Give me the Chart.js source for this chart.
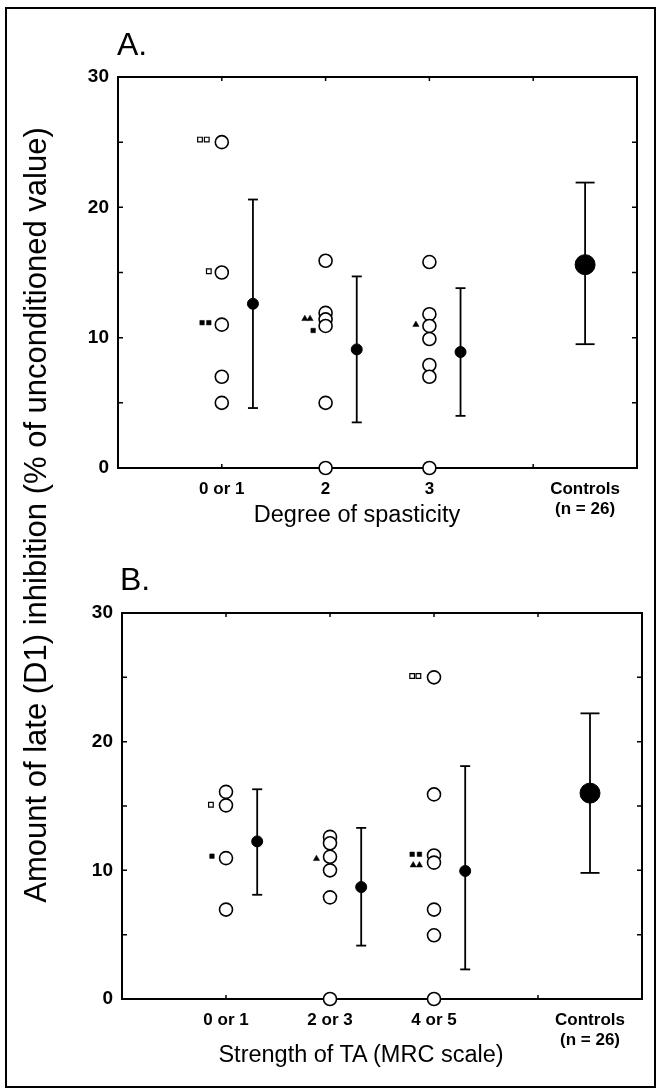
<!DOCTYPE html>
<html>
<head>
<meta charset="utf-8">
<title>Late (D1) inhibition</title>
<script src="https://cdn.jsdelivr.net/npm/chart.js@4.4.1/dist/chart.umd.min.js"></script>
<style>
    body {
        margin: 0;
        background: #fff;
        font-family: "Liberation Sans", Arial, Helvetica, sans-serif;
        color: #000;
    }
    #page {
        position: relative;
        width: 659px;
        height: 1091px;
        overflow: hidden;
    }
    #frame {
        position: absolute;
        left: 5px;
        top: 7px;
        width: 651px;
        height: 1081px;
        box-sizing: border-box;
        border: 2px solid #000;
    }
    .panel {
        position: absolute;
        left: 0;
        width: 659px;
        height: 540px;
    }
    #panelA { top: 0; }
    #panelB { top: 535px; }
    .letter {
        position: absolute;
        font-size: 32px;
        line-height: 1;
    }
    .xtitle {
        position: absolute;
        width: 400px;
        font-size: 23.5px;
        line-height: 1;
        text-align: center;
        white-space: nowrap;
    }
    #ytitle {
        position: absolute;
        left: -364px;
        top: 497px;
        width: 800px;
        height: 36px;
        line-height: 36px;
        font-size: 31px;
        text-align: center;
        white-space: nowrap;
        transform: rotate(-90deg);
    }
</style>
</head>
<body>
<div id="page">
    <div id="frame"></div>
    <div class="panel" id="panelA"><canvas id="chartA"></canvas></div>
    <div class="panel" id="panelB"><canvas id="chartB"></canvas></div>
    <div class="letter" style="left:117px; top:28px;">A.</div>
    <div class="letter" style="left:120px; top:563px;">B.</div>
    <div class="xtitle" style="left:157px; top:503px;">Degree of spasticity</div>
    <div class="xtitle" style="left:161px; top:1043px;">Strength of TA (MRC scale)</div>
    <div id="ytitle">Amount of late (D1) inhibition (% of unconditioned value)</div>
</div>

<script>
// group positions on the x axis
const groupPositions = [1, 2, 3];
const controlsPosition = 4.5;
const meanShift = 0.3;

const spasticityLabels = ["0 or 1", "2", "3"];
const strengthLabels = ["0 or 1", "2 or 3", "4 or 5"];
const controlsLabel = ["Controls", "(n = 26)"];

const yTickValues = [0, 10, 20, 30];

// A. degree of spasticity - single patients (open circles)
const spasticityValues = [
    [25, 15, 11, 7, 5],
    [15.9, 11.9, 11.4, 10.9, 5, 0],
    [15.8, 11.8, 10.9, 9.9, 7.9, 7.0, 0]
];
const spasticityMeans = [12.6, 9.1, 8.9];
const spasticityHigh = [20.6, 14.7, 13.8];
const spasticityLow = [4.6, 3.5, 4.0];

// small symbols next to the circles
const spasticityOpenSquares = [{x: 0.79, y: 25.2}, {x: 0.855, y: 25.2}, {x: 0.875, y: 15.1}];
const spasticityFilledSquares = [{x: 0.81, y: 11.15}, {x: 0.875, y: 11.15}, {x: 1.88, y: 10.55}];
const spasticityTriangles = [{x: 1.8, y: 11.45}, {x: 1.85, y: 11.45}, {x: 2.87, y: 11.0}];

// B. strength of TA
const strengthValues = [
    [16.1, 15.05, 10.95, 6.95],
    [12.6, 12.1, 11.05, 10.0, 7.9, 0],
    [25, 15.9, 11.15, 10.6, 6.95, 4.95, 0]
];
const strengthMeans = [12.25, 8.7, 9.95];
const strengthHigh = [16.3, 13.3, 18.1];
const strengthLow = [8.1, 4.15, 2.3];

const strengthOpenSquares = [{x: 0.855, y: 15.1}, {x: 2.79, y: 25.1}, {x: 2.85, y: 25.1}];
const strengthFilledSquares = [{x: 0.865, y: 11.1}, {x: 2.79, y: 11.25}, {x: 2.86, y: 11.25}];
const strengthTriangles = [{x: 1.87, y: 10.9}, {x: 2.8, y: 10.4}, {x: 2.86, y: 10.4}];

// controls (n = 26), panel A then panel B
const controlMeans = [15.6, 16.0];
const controlHigh = [21.9, 22.2];
const controlLow = [9.5, 9.8];

const fontFamily = '"Liberation Sans", Arial, Helvetica, sans-serif';

// plot frame with inward ticks, drawn under the points
const framePlugin = {
    id: "frame",
    beforeDatasetsDraw(chart) {
        const ctx = chart.ctx;
        const area = chart.chartArea;
        const x = chart.scales.x;
        const y = chart.scales.y;
        ctx.save();
        ctx.strokeStyle = "#000";
        ctx.lineWidth = 2;
        ctx.strokeRect(area.left, area.top, area.right - area.left, area.bottom - area.top);
        ctx.lineWidth = 1.5;
        ctx.beginPath();
        [5, 10, 15, 20, 25].forEach(v => {
            const py = y.getPixelForValue(v);
            ctx.moveTo(area.left, py);
            ctx.lineTo(area.left + 5, py);
            ctx.moveTo(area.right, py);
            ctx.lineTo(area.right - 5, py);
        });
        [1, 2, 3, 4].forEach(v => {
            const px = x.getPixelForValue(v);
            ctx.moveTo(px, area.top);
            ctx.lineTo(px, area.top + 4);
            ctx.moveTo(px, area.bottom);
            ctx.lineTo(px, area.bottom - 4);
        });
        ctx.stroke();
        ctx.restore();
    }
};

function makePanel(canvasId, labels, values, means, high, low, c, open, filled, triangles, geom) {
    const circles = [];
    values.forEach((group, i) => {
        group.forEach(v => circles.push({x: groupPositions[i], y: v}));
    });

    const meanPoints = means.map((m, i) => ({x: groupPositions[i] + meanShift, y: m}));

    // error bars: low/high pairs split by gaps, caps are 'line' points
    const bars = [];
    means.forEach((m, i) => {
        const bx = groupPositions[i] + meanShift;
        bars.push({x: bx, y: low[i]}, {x: bx, y: high[i]}, {x: bx, y: null});
    });
    const controlBar = [
        {x: controlsPosition, y: controlLow[c]},
        {x: controlsPosition, y: controlHigh[c]}
    ];

    const tickText = v => {
        if (v === controlsPosition) return controlsLabel;
        const i = groupPositions.indexOf(v);
        return i >= 0 ? labels[i] : "";
    };

    return new Chart(canvasId, {
        type: "scatter",
        data: {
            datasets: [
                {
                    data: [{x: controlsPosition, y: controlMeans[c]}],
                    pointStyle: "circle",
                    pointRadius: 10,
                    backgroundColor: "#000",
                    borderColor: "#000",
                    clip: false
                },
                {
                    data: meanPoints,
                    pointStyle: "circle",
                    pointRadius: 5.5,
                    backgroundColor: "#000",
                    borderColor: "#000",
                    clip: false
                },
                {
                    data: circles,
                    pointStyle: "circle",
                    pointRadius: 6.5,
                    borderWidth: 1.6,
                    backgroundColor: "#fff",
                    borderColor: "#000",
                    clip: false
                },
                {
                    data: open,
                    pointStyle: "rect",
                    pointRadius: 3.3,
                    borderWidth: 1.2,
                    backgroundColor: "#fff",
                    borderColor: "#000"
                },
                {
                    data: filled,
                    pointStyle: "rect",
                    pointRadius: 3.2,
                    borderWidth: 0.5,
                    backgroundColor: "#000",
                    borderColor: "#000"
                },
                {
                    data: triangles,
                    pointStyle: "triangle",
                    pointRadius: 3.6,
                    borderWidth: 0.5,
                    backgroundColor: "#000",
                    borderColor: "#000"
                },
                {
                    type: "line",
                    data: bars,
                    showLine: true,
                    spanGaps: false,
                    borderColor: "#000",
                    borderWidth: 1.8,
                    pointStyle: "line",
                    pointRadius: 5,
                    pointBorderWidth: 1.8,
                    pointBorderColor: "#000",
                    clip: false
                },
                {
                    type: "line",
                    data: controlBar,
                    showLine: true,
                    borderColor: "#000",
                    borderWidth: 1.8,
                    pointStyle: "line",
                    pointRadius: 9.5,
                    pointBorderWidth: 1.8,
                    pointBorderColor: "#000",
                    clip: false
                }
            ]
        },
        options: {
            responsive: true,
            maintainAspectRatio: false,
            animation: false,
            events: [],
            layout: {
                padding: {top: geom.top, right: geom.right, left: 0, bottom: 0}
            },
            plugins: {
                legend: {display: false},
                tooltip: {enabled: false}
            },
            scales: {
                x: {
                    type: "linear",
                    min: 0,
                    max: 5,
                    grid: {display: false, drawTicks: false},
                    border: {display: false},
                    afterBuildTicks: scale => {
                        scale.ticks = groupPositions.concat([controlsPosition]).map(v => ({value: v}));
                    },
                    ticks: {
                        autoSkip: false,
                        maxRotation: 0,
                        padding: 11,
                        color: "#000",
                        font: {size: 17, weight: "bold", family: fontFamily, lineHeight: 1.2},
                        callback: v => tickText(v)
                    },
                    afterFit: scale => { scale.height = geom.xHeight; }
                },
                y: {
                    type: "linear",
                    min: 0,
                    max: 30,
                    grid: {display: false, drawTicks: false},
                    border: {display: false},
                    afterBuildTicks: scale => {
                        scale.ticks = yTickValues.map(v => ({value: v}));
                    },
                    ticks: {
                        padding: 9,
                        color: "#000",
                        font: {size: 19, weight: "bold", family: fontFamily}
                    },
                    afterFit: scale => { scale.width = geom.yWidth; }
                }
            }
        },
        plugins: [framePlugin]
    });
}

makePanel("chartA", spasticityLabels, spasticityValues, spasticityMeans, spasticityHigh, spasticityLow, 0,
    spasticityOpenSquares, spasticityFilledSquares, spasticityTriangles,
    {top: 77, right: 22, yWidth: 118, xHeight: 72});

makePanel("chartB", strengthLabels, strengthValues, strengthMeans, strengthHigh, strengthLow, 1,
    strengthOpenSquares, strengthFilledSquares, strengthTriangles,
    {top: 78, right: 17, yWidth: 122, xHeight: 76});
</script>
</body>
</html>
